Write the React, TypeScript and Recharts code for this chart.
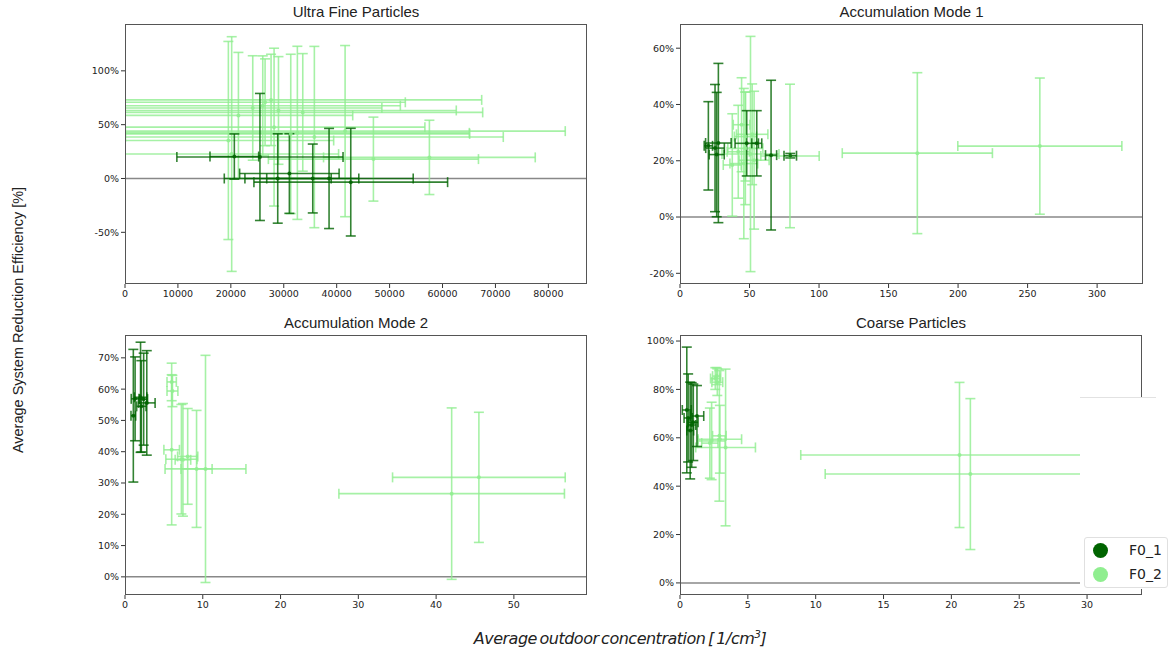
import React from "react";
import {
  ErrorBar,
  ReferenceLine,
  Scatter,
  ScatterChart,
  XAxis,
  YAxis,
} from "recharts";

// [x, y, xerr, yerr]
type Pt = [number, number, number, number];

const SERIES = ["F0_1", "F0_2"];
const DARK = "#006400";
const LIGHT = "#90ee90";

// Ultra Fine Particles
const ufpF01: Pt[] = [
  [20660, 20.4, 4600, 21],
  [25500, 20, 15700, 59],
  [28860, 0, 10100, 41.5],
  [31060, 4.6, 9400, 37],
  [35480, 0, 8700, 32],
  [38560, 0, 15900, 46.5],
  [42660, -3.4, 18300, 50],
];
const ufpF02: Pt[] = [
  [19530, 35.3, 19900, 92],
  [20160, 22.7, 20200, 109],
  [21430, 58.6, 21600, 58.5],
  [24140, 65.5, 24400, 48.5],
  [26030, 67.6, 26000, 46.3],
  [26470, 70.8, 26500, 40.3],
  [27600, 73, 39800, 42.4],
  [28170, 47.7, 28500, 73.3],
  [29000, 63.2, 33600, 50],
  [31320, 41.4, 33800, 74],
  [32570, 42.4, 32500, 80.4],
  [33590, 61.4, 34000, 54.6],
  [35780, 38.5, 35700, 84.2],
  [41590, 44, 41600, 79.5],
  [46940, 18, 19850, 39],
  [57520, 19.6, 20000, 34.5],
];

// Accumulation Mode 1
const am1F01: Pt[] = [
  [20.4, 25.3, 3, 15.7],
  [25.2, 24.5, 6.7, 22.6],
  [26.4, 22.2, 5.4, 22.1],
  [27.6, 26.3, 9.2, 28.3],
  [48, 26.2, 8.4, 11.6],
  [55.2, 26.2, 3.6, 11.6],
  [65.5, 22, 4, 26.6],
  [79.3, 21.8, 4.5, 0.8],
];
const am1F02: Pt[] = [
  [37.6, 18.5, 6.5, 18.2],
  [41.9, 23.2, 8, 16.5],
  [44.3, 32.8, 6, 16.7],
  [45.9, 19, 10, 26.7],
  [47, 24.4, 12.6, 20],
  [47.1, 28.6, 8, 15.8],
  [50.7, 22.4, 20.5, 41.8],
  [51.9, 29.4, 11.3, 17.9],
  [53.3, 20.2, 10.8, 24.5],
  [79.1, 21.7, 21, 25.5],
  [170.7, 22.7, 54, 28.6],
  [258.8, 25.2, 59, 24.2],
];

// Accumulation Mode 2
const am2F01: Pt[] = [
  [1.07, 51.5, 0.3, 21.2],
  [1.3, 56.9, 0.5, 13.4],
  [2.0, 57.4, 0.8, 17.6],
  [2.1, 54.5, 0.6, 14.6],
  [2.4, 56.8, 0.5, 14.7],
  [2.8, 55.6, 1.07, 16.7],
];
const am2F02: Pt[] = [
  [6.0, 62.3, 0.6, 6],
  [6.1, 59.4, 0.7, 5],
  [6.0, 40.6, 1.0, 24],
  [7.25, 37.6, 2.0, 17.5],
  [7.45, 37.4, 1.0, 18],
  [8.06, 38.5, 1.3, 15.3],
  [9.2, 34.5, 2.0, 18.7],
  [10.35, 34.5, 5.2, 36.3],
  [42.0, 26.6, 14.5, 27.4],
  [45.5, 31.8, 11.1, 20.8],
];

// Coarse Particles
const coarseF01: Pt[] = [
  [0.5, 71.5, 0.33, 26],
  [0.6, 68.2, 0.3, 18.2],
  [0.75, 63, 0.25, 20],
  [0.86, 65.3, 0.3, 17.5],
  [0.98, 66.4, 0.35, 15.8],
  [1.25, 69, 0.5, 12.6],
];
const coarseF02: Pt[] = [
  [2.6, 84.5, 0.35, 4.5],
  [2.75, 83, 0.4, 5.5],
  [2.7, 85.5, 0.3, 3.5],
  [2.2, 57.8, 0.6, 14.5],
  [2.33, 58.7, 1.0, 16],
  [2.94, 59.4, 1.6, 14],
  [2.9, 60.8, 0.5, 27],
  [3.36, 56, 2.2, 32.4],
  [20.6, 52.9, 11.7, 30],
  [21.4, 45, 10.7, 31.2],
];

const ufpXTicks = [0, 10000, 20000, 30000, 40000, 50000, 60000, 70000, 80000];
const ufpYTicks = [-50, 0, 50, 100];
const am1XTicks = [0, 50, 100, 150, 200, 250, 300];
const am1YTicks = [-20, 0, 20, 40, 60];
const am2XTicks = [0, 10, 20, 30, 40, 50];
const am2YTicks = [0, 10, 20, 30, 40, 50, 60, 70];
const coarseXTicks = [0, 5, 10, 15, 20, 25, 30];
const coarseYTicks = [0, 20, 40, 60, 80, 100];

const toRows = (pts: Pt[]) => pts.map(([x, y, ex, ey]) => ({ x, y, ex, ey }));

const tickStyle = { fontSize: 9.5, fill: "#222", fontFamily: "DejaVu Sans" };

type PanelProps = {
  title: string;
  rect: [number, number, number, number]; // plot area x0, y0, x1, y1
  f01: Pt[];
  f02: Pt[];
  xDomain: [number, number];
  yDomain: [number, number];
  xTicks: number[];
  yTicks: number[];
};

const Y_AXIS_W = 60;
const X_AXIS_H = 24;
const M_TOP = 10;
const M_RIGHT = 10;

function Panel({ title, rect, f01, f02, xDomain, yDomain, xTicks, yTicks }: PanelProps) {
  const [x0, y0, x1, y1] = rect;
  const w = x1 - x0 + Y_AXIS_W + M_RIGHT;
  const h = y1 - y0 + M_TOP + X_AXIS_H;
  const series = [
    { name: SERIES[1], pts: f02, color: LIGHT },
    { name: SERIES[0], pts: f01, color: DARK },
  ];

  // same chart drawn twice: once for the axes, once (clipped to the plot box) for the data
  const chart = (withData: boolean) => (
    <ScatterChart
      width={w}
      height={h}
      margin={{ top: M_TOP, right: M_RIGHT, bottom: 0, left: 0 }}
    >
      <XAxis
        type="number"
        dataKey="x"
        domain={xDomain}
        ticks={xTicks}
        allowDataOverflow
        axisLine={false}
        tickSize={4}
        tick={withData ? false : tickStyle}
        tickLine={withData ? false : { stroke: "#333" }}
        height={X_AXIS_H}
        interval={0}
      />
      <YAxis
        type="number"
        dataKey="y"
        domain={yDomain}
        ticks={yTicks}
        allowDataOverflow
        axisLine={false}
        tickSize={4}
        tick={withData ? false : tickStyle}
        tickLine={withData ? false : { stroke: "#333" }}
        tickFormatter={(v: number) => `${v}%`}
        width={Y_AXIS_W}
        interval={0}
      />
      {withData && <ReferenceLine y={0} stroke="#888" strokeWidth={1.5} />}
      {series.map((s) => (
        <Scatter
          key={s.name}
          name={s.name}
          data={toRows(s.pts)}
          fill={s.color}
          isAnimationActive={false}
          shape={(p: any) =>
            withData ? (
              <circle cx={p.cx} cy={p.cy} r={2} fill={s.color} fillOpacity={0.85} />
            ) : (
              <g />
            )
          }
        >
          {withData && (
            <ErrorBar
              dataKey="ex"
              direction="x"
              width={5}
              stroke={s.color}
              strokeOpacity={0.8}
              strokeWidth={1.6}
              isAnimationActive={false}
            />
          )}
          {withData && (
            <ErrorBar
              dataKey="ey"
              direction="y"
              width={5}
              stroke={s.color}
              strokeOpacity={0.8}
              strokeWidth={1.6}
              isAnimationActive={false}
            />
          )}
        </Scatter>
      ))}
    </ScatterChart>
  );

  return (
    <>
      <div
        style={{
          position: "absolute",
          left: x0,
          width: x1 - x0,
          top: y0 - 21,
          textAlign: "center",
          fontFamily: "Liberation Sans",
          fontSize: 15,
          color: "#222",
        }}
      >
        {title}
      </div>
      <div style={{ position: "absolute", left: x0 - Y_AXIS_W, top: y0 - M_TOP }}>
        {chart(false)}
      </div>
      <div
        style={{
          position: "absolute",
          left: x0,
          top: y0,
          width: x1 - x0,
          height: y1 - y0,
          overflow: "hidden",
        }}
      >
        <div style={{ position: "absolute", left: -Y_AXIS_W, top: -M_TOP }}>{chart(true)}</div>
      </div>
      <div
        style={{
          position: "absolute",
          left: x0,
          top: y0,
          width: x1 - x0,
          height: y1 - y0,
          border: "1px solid #555",
          boxSizing: "border-box",
          pointerEvents: "none",
        }}
      />
    </>
  );
}

export default function App() {
  return (
    <div
      style={{
        position: "absolute",
        left: 0,
        top: 0,
        width: 1170,
        height: 654,
        background: "#fff",
        overflow: "hidden",
      }}
    >
      <Panel
        title="Ultra Fine Particles"
        rect={[125, 24, 587, 284]}
        f01={ufpF01}
        f02={ufpF02}
        xDomain={[0, 87300]}
        yDomain={[-98, 143.5]}
        xTicks={ufpXTicks}
        yTicks={ufpYTicks}
      />
      <Panel
        title="Accumulation Mode 1"
        rect={[680, 24, 1143, 284]}
        f01={am1F01}
        f02={am1F02}
        xDomain={[0, 333]}
        yDomain={[-23.8, 68.6]}
        xTicks={am1XTicks}
        yTicks={am1YTicks}
      />
      <Panel
        title="Accumulation Mode 2"
        rect={[125, 335, 587, 595]}
        f01={am2F01}
        f02={am2F02}
        xDomain={[0, 59.4]}
        yDomain={[-5.8, 77.3]}
        xTicks={am2XTicks}
        yTicks={am2YTicks}
      />
      <Panel
        title="Coarse Particles"
        rect={[680, 335, 1142, 595]}
        f01={coarseF01}
        f02={coarseF02}
        xDomain={[0, 34.05]}
        yDomain={[-5, 102.5]}
        xTicks={coarseXTicks}
        yTicks={coarseYTicks}
      />

      {/* legend box covering the lower right corner */}
      <div
        style={{
          position: "absolute",
          left: 1080,
          top: 397,
          width: 76,
          height: 191,
          background: "#fff",
          borderTop: "1px solid #e2e2e2",
        }}
      />
      <div
        style={{
          position: "absolute",
          left: 1084,
          top: 537,
          width: 84,
          height: 51,
          background: "#fff",
          border: "1px solid #e0e0e0",
          borderRadius: 3,
          boxSizing: "border-box",
          fontFamily: "DejaVu Sans",
          fontSize: 14,
          color: "#222",
        }}
      >
        {[
          { name: SERIES[0], color: DARK },
          { name: SERIES[1], color: LIGHT },
        ].map((s, i) => (
          <div
            key={s.name}
            style={{ position: "absolute", left: 8, top: 4 + i * 24, display: "flex", alignItems: "center" }}
          >
            <span
              style={{
                width: 15,
                height: 15,
                borderRadius: "50%",
                background: s.color,
                display: "inline-block",
              }}
            />
            <span style={{ marginLeft: 21 }}>{s.name}</span>
          </div>
        ))}
      </div>

      <div
        style={{
          position: "absolute",
          left: 18,
          top: 320,
          transform: "translate(-50%, -50%) rotate(-90deg)",
          whiteSpace: "nowrap",
          fontFamily: "Liberation Sans",
          fontSize: 14.5,
          color: "#222",
        }}
      >
        Average System Reduction Efficiency [%]
      </div>
      <div
        style={{
          position: "absolute",
          left: 620,
          top: 638,
          transform: "translate(-50%, -50%)",
          whiteSpace: "nowrap",
          fontFamily: "DejaVu Sans",
          fontStyle: "italic",
          fontSize: 16,
          letterSpacing: -0.5,
          wordSpacing: -2,
          color: "#222",
        }}
      >
        Average outdoor concentration [ 1/cm<sup style={{ fontSize: 10.5 }}>3</sup>]
      </div>
    </div>
  );
}
